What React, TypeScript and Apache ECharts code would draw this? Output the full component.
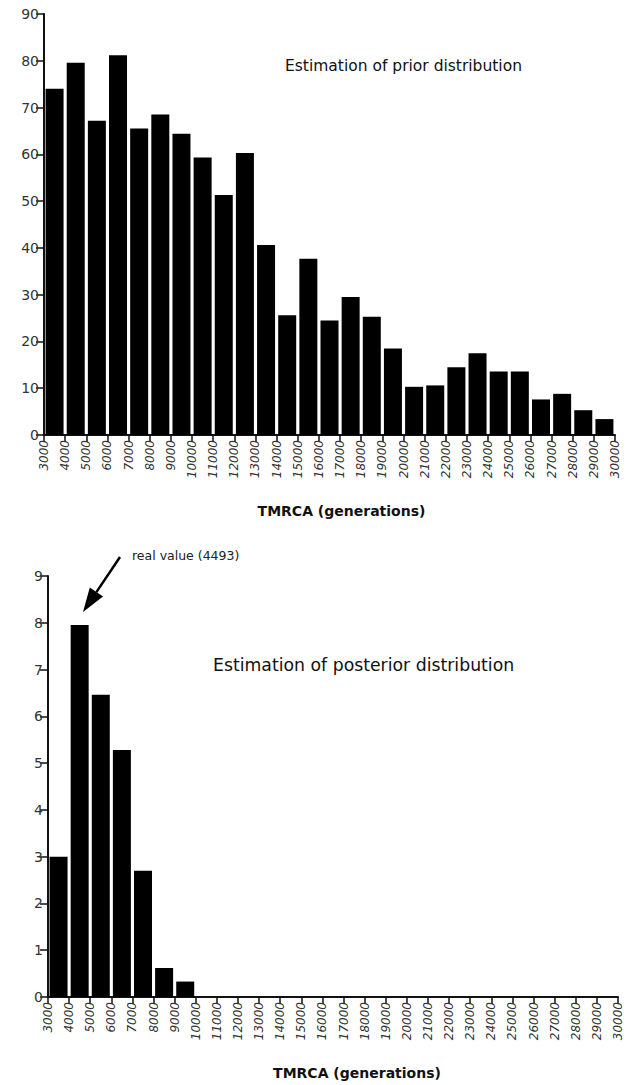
import React, { useEffect, useRef } from "react";
import * as echarts from "echarts";

const binStarts = [3000, 4000, 5000, 6000, 7000, 8000, 9000, 10000, 11000, 12000, 13000, 14000, 15000, 16000, 17000, 18000, 19000, 20000, 21000, 22000, 23000, 24000, 25000, 26000, 27000, 28000, 29000];
const priorValues = [74.0, 79.6, 67.2, 81.2, 65.5, 68.5, 64.4, 59.3, 51.3, 60.3, 40.6, 25.6, 37.7, 24.5, 29.5, 25.3, 18.5, 10.3, 10.6, 14.5, 17.5, 13.6, 13.6, 7.6, 8.8, 5.3, 3.4];
const posteriorValues = [3.0, 7.95, 6.46, 5.28, 2.7, 0.62, 0.33, 0, 0, 0, 0, 0, 0, 0, 0, 0, 0, 0, 0, 0, 0, 0, 0, 0, 0, 0, 0];
const binWidth = 1000;
const xTitle = "TMRCA (generations)";
const priorTitle = "Estimation of prior distribution";
const posteriorTitle = "Estimation of posterior distribution";
const annotation = "real value (4493)";

const FONT = "DejaVu Sans";

function xAxisCfg(gridIndex: number, shift: number) {
  return {
    type: "value",
    gridIndex,
    min: 3000,
    max: 30000,
    interval: 1000,
    axisLine: { show: true, lineStyle: { color: "#111", width: 2 } },
    axisTick: { show: true, length: 7, lineStyle: { color: "#111", width: 1.5 } },
    splitLine: { show: false },
    axisLabel: {
      rotate: 90,
      margin: 5,
      fontSize: 12,
      fontStyle: "italic",
      fontFamily: FONT,
      color: "#333",
      showMinLabel: true,
      showMaxLabel: true,
      formatter: (v: number) => String(v),
    },
    name: xTitle,
    nameLocation: "middle",
    nameGap: 69,
    nameTextStyle: { fontSize: 14, fontWeight: "bold", fontFamily: FONT, color: "#111", padding: [0, 0, 0, shift] },
  };
}

function yAxisCfg(gridIndex: number, max: number, interval: number) {
  return {
    type: "value",
    gridIndex,
    min: 0,
    max,
    interval,
    axisLine: { show: true, lineStyle: { color: "#111", width: 2 } },
    axisTick: { show: true, length: 8, lineStyle: { color: "#111", width: 1.5 } },
    splitLine: { show: false },
    axisLabel: { fontSize: 14, fontFamily: FONT, color: "#333", margin: 5 },
  };
}

export default function App() {
  const ref = useRef<HTMLDivElement>(null);
  useEffect(() => {
    if (!ref.current) return;
    const chart = echarts.init(ref.current, undefined, { renderer: "svg" });
    const prior = binStarts.map((s, i) => [s + binWidth / 2, priorValues[i]]);
    const posterior = binStarts.map((s, i) => [s + binWidth / 2, posteriorValues[i]]);
    chart.setOption({
      animation: false,
      backgroundColor: "#fff",
      grid: [
        { left: 44, width: 571, top: 14, height: 421 },
        { left: 48, width: 570, top: 576, height: 421 },
      ],
      xAxis: [xAxisCfg(0, 24), xAxisCfg(1, 48)],
      yAxis: [yAxisCfg(0, 90, 10), yAxisCfg(1, 9, 1)],
      series: [
        {
          type: "bar",
          xAxisIndex: 0,
          yAxisIndex: 0,
          data: prior,
          barWidth: 18,
          itemStyle: { color: "#000" },
        },
        {
          type: "bar",
          xAxisIndex: 1,
          yAxisIndex: 1,
          data: posterior,
          barWidth: 18,
          itemStyle: { color: "#000" },
        },
      ],
      graphic: [
        {
          type: "text",
          left: 285,
          top: 58,
          style: { text: priorTitle, fontSize: 15.5, fontFamily: FONT, fill: "#111" },
        },
        {
          type: "text",
          left: 213,
          top: 656,
          style: { text: posteriorTitle, fontSize: 17.3, fontFamily: FONT, fill: "#111" },
        },
        {
          type: "text",
          left: 132,
          top: 549,
          style: { text: annotation, fontSize: 12.5, fontFamily: FONT, fill: "#222" },
        },
        {
          type: "line",
          shape: { x1: 120, y1: 557, x2: 96.4, y2: 592.1 },
          style: { stroke: "#000", lineWidth: 2.5 },
        },
        {
          type: "polygon",
          shape: { points: [[83, 612], [103, 596.6], [89.8, 587.6]] },
          style: { fill: "#000" },
        },
      ],
    });
    return () => chart.dispose();
  }, []);
  return (
    <div
      ref={ref}
      style={{ position: "absolute", left: 0, top: 0, width: 629, height: 1085 }}
    />
  );
}
